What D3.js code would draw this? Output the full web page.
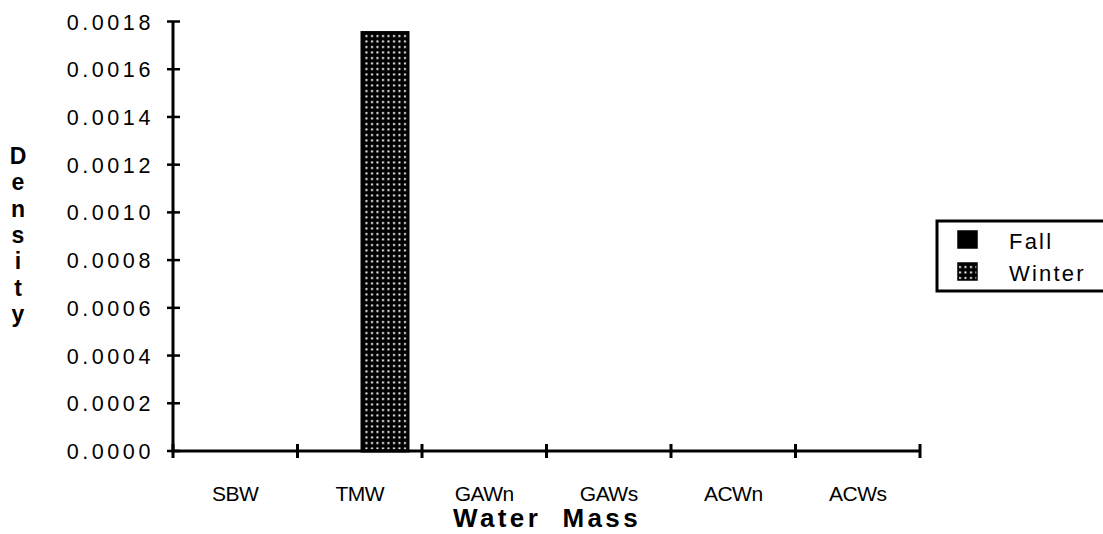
<!DOCTYPE html>
<html lang="en">
<head>
<meta charset="UTF-8">
<title>Density by Water Mass</title>
<style>
  body { margin: 0; background: #fff; }
  text { font-family: "Liberation Sans", Arial, sans-serif; fill: #000; }
</style>
<script src="https://cdn.jsdelivr.net/npm/d3@7"></script>
</head>
<body>
<script>
// data
var masses = ["SBW", "TMW", "GAWn", "GAWs", "ACWn", "ACWs"];
var seasons = ["Fall", "Winter"];
var fall   = [0, 0, 0, 0, 0, 0];
var winter = [0, 0.00176, 0, 0, 0, 0];
var yTicks = [0, 0.0002, 0.0004, 0.0006, 0.0008, 0.0010, 0.0012, 0.0014, 0.0016, 0.0018];

var W = 1103, H = 534;
var svg = d3.select("body").append("svg").attr("width", W).attr("height", H);

// dotted fill for winter
var pat = svg.append("defs").append("pattern")
  .attr("id", "dots").attr("patternUnits", "userSpaceOnUse")
  .attr("width", 5.5).attr("height", 5.5);
pat.append("rect").attr("width", 5.5).attr("height", 5.5).attr("fill", "#000");
pat.append("rect").attr("x", 2).attr("y", 2).attr("width", 2).attr("height", 2).attr("fill", "#fff");

var x0 = d3.scaleBand().domain(masses).range([173, 920]);
var x1 = d3.scaleBand().domain(seasons).range([14, x0.bandwidth() - 12.5]);
var y = d3.scaleLinear().domain([0, 0.0018]).range([451, 21.5]);

var rows = masses.map(function(m, i) {
  return { mass: m, vals: [{ s: "Fall", v: fall[i] }, { s: "Winter", v: winter[i] }] };
});

// bars
var g = svg.append("g");
g.selectAll("g.grp").data(rows).enter().append("g")
  .attr("transform", function(d) { return "translate(" + x0(d.mass) + ",0)"; })
  .selectAll("rect").data(function(d) { return d.vals.filter(function(e) { return e.v > 0; }); })
  .enter().append("rect")
  .attr("x", function(d) { return x1(d.s) + 1.5; })
  .attr("y", function(d) { return y(d.v) + 1.5; })
  .attr("width", x1.bandwidth() - 3)
  .attr("height", function(d) { return y(0) - y(d.v) - 1.5; })
  .attr("fill", function(d) { return d.s === "Winter" ? "url(#dots)" : "#000"; })
  .attr("stroke", "#000").attr("stroke-width", 3);

// y axis
var yAxis = svg.append("g");
yAxis.append("line").attr("x1", 173).attr("x2", 173).attr("y1", y(0.0018)).attr("y2", y(0) + 1.5)
  .attr("stroke", "#000").attr("stroke-width", 3);
yAxis.selectAll("line.tk").data(yTicks).enter().append("line")
  .attr("x1", 167).attr("x2", 180)
  .attr("y1", function(d) { return y(d); }).attr("y2", function(d) { return y(d); })
  .attr("stroke", "#000").attr("stroke-width", 2.5);
yAxis.selectAll("text").data(yTicks).enter().append("text")
  .attr("x", 154).attr("y", function(d) { return y(d) + 8; })
  .attr("text-anchor", "end").attr("font-size", 21.5).attr("letter-spacing", 3.6)
  .text(function(d) { return d3.format(".4f")(d); });

// x axis
var xAxis = svg.append("g");
xAxis.append("line").attr("x1", 173).attr("x2", 920).attr("y1", y(0)).attr("y2", y(0))
  .attr("stroke", "#000").attr("stroke-width", 3);
var bounds = masses.map(function(m) { return x0(m); }).concat([920]);
xAxis.selectAll("line.tk").data(bounds).enter().append("line")
  .attr("x1", function(d) { return d; }).attr("x2", function(d) { return d; })
  .attr("y1", y(0) - 7).attr("y2", y(0) + 7)
  .attr("stroke", "#000").attr("stroke-width", 3);
xAxis.selectAll("text").data(masses).enter().append("text")
  .attr("x", function(d) { return x0(d) + x0.bandwidth() / 2; })
  .attr("y", 501).attr("text-anchor", "middle").attr("font-size", 21).attr("letter-spacing", -0.5)
  .text(function(d) { return d; });

// axis titles
svg.append("text").attr("x", 547).attr("y", 527).attr("text-anchor", "middle")
  .attr("font-size", 26).attr("font-weight", "bold").attr("letter-spacing", 3.4)
  .attr("xml:space", "preserve").text("Water  Mass");

var yLetters = "Density".split("");
svg.selectAll("text.yl").data(yLetters).enter().append("text")
  .attr("x", 18).attr("y", function(d, i) { return 164 + i * 26.3; })
  .attr("text-anchor", "middle").attr("font-size", 23).attr("font-weight", "bold")
  .text(function(d) { return d; });

// legend
var leg = svg.append("g");
leg.append("rect").attr("x", 937).attr("y", 221).attr("width", 180).attr("height", 70)
  .attr("fill", "#fff").attr("stroke", "#000").attr("stroke-width", 3);
leg.selectAll("rect.sw").data(seasons).enter().append("rect")
  .attr("x", 958).attr("y", function(d, i) { return 231 + i * 32; })
  .attr("width", 19).attr("height", 17)
  .attr("fill", function(d) { return d === "Winter" ? "url(#dots)" : "#000"; })
  .attr("stroke", "#000").attr("stroke-width", 1.5);
leg.selectAll("text").data(seasons).enter().append("text")
  .attr("x", 1009).attr("y", function(d, i) { return 249 + i * 32; })
  .attr("font-size", 22).attr("letter-spacing", 2.2)
  .text(function(d) { return d; });
</script>
</body>
</html>
